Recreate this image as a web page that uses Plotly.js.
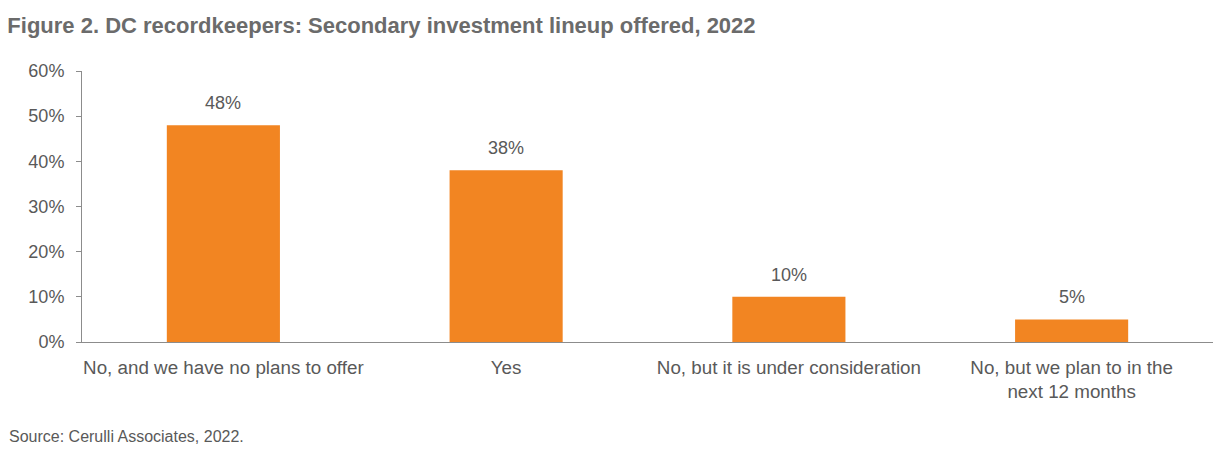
<!DOCTYPE html>
<html>
<head>
<meta charset="utf-8">
<script src="https://cdn.plot.ly/plotly-3.0.1.min.js"></script>
<style>
  html, body { margin: 0; padding: 0; background: #fff; }
  #chart { width: 1223px; height: 454px; }
</style>
</head>
<body>
<div id="chart"></div>
<script>
const categories = [
  "No, and we have no plans to offer",
  "Yes",
  "No, but it is under consideration",
  "No, but we plan to in the<br>next 12 months"
];
const values = [48, 38, 10, 5];
const valueLabels = ["48%", "38%", "10%", "5%"];
const yTickVals = [0, 10, 20, 30, 40, 50, 60];
const yTickText = ["0%", "10%", "20%", "30%", "40%", "50%", "60%"];

const baseFont = "Liberation Sans, Arial, sans-serif";

const trace = {
  type: "bar",
  x: categories,
  y: values,
  marker: { color: "#F28522" },
  width: 0.4,
  hoverinfo: "skip"
};

const valueAnnotations = categories.map((c, i) => ({
  x: c, y: values[i],
  xref: "x", yref: "y",
  text: valueLabels[i],
  showarrow: false,
  yanchor: "bottom",
  yshift: 10,
  font: { family: baseFont, size: 18, color: "#595959" }
}));

const layout = {
  width: 1223,
  height: 454,
  margin: { l: 82, r: 10, t: 71, b: 112 },
  paper_bgcolor: "#ffffff",
  plot_bgcolor: "#ffffff",
  showlegend: false,
  font: { family: baseFont, size: 18, color: "#595959" },
  title: {
    text: "<b>Figure 2. DC recordkeepers: Secondary investment lineup offered, 2022</b>",
    font: { family: "Liberation Sans Narrow, Arial Narrow, sans-serif", size: 22, color: "#6b6b6b" },
    x: 0.006, xanchor: "left",
    xref: "container",
    y: 0.944, yanchor: "middle", yref: "container"
  },
  xaxis: {
    type: "category",
    showline: true,
    linecolor: "#8c8c8c",
    linewidth: 1,
    ticks: "",
    showgrid: false,
    ticklabelstandoff: 8,
    tickfont: { family: baseFont, size: 18.8, color: "#595959" },
    automargin: false
  },
  yaxis: {
    range: [0, 60],
    tickvals: yTickVals,
    ticktext: yTickText,
    showline: true,
    linecolor: "#8c8c8c",
    linewidth: 1,
    ticks: "outside",
    ticklen: 5,
    tickcolor: "#8c8c8c",
    showgrid: false,
    zeroline: false,
    ticklabelstandoff: 8,
    tickfont: { family: baseFont, size: 18, color: "#595959" },
    automargin: false
  },
  annotations: valueAnnotations.concat([
    {
      text: "Source: Cerulli Associates, 2022.",
      xref: "paper", yref: "paper",
      x: 0, xanchor: "left",
      y: 0, yanchor: "middle",
      xshift: -75,
      yshift: -94,
      showarrow: false,
      font: { family: "Liberation Sans Narrow, Arial Narrow, sans-serif", size: 16, color: "#595959" }
    }
  ])
};

Plotly.newPlot("chart", [trace], layout, { displayModeBar: false, staticPlot: true });
</script>
</body>
</html>
